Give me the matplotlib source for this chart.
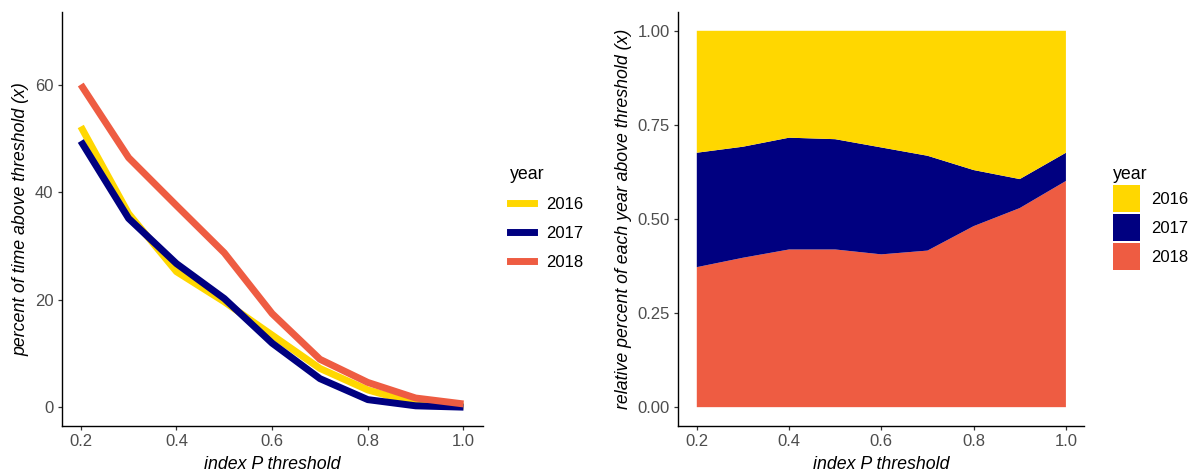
import numpy as np
import matplotlib
matplotlib.use("Agg")
import matplotlib.pyplot as plt
from matplotlib.patches import Patch
from matplotlib.lines import Line2D

plt.rcParams['font.family'] = ['Liberation Sans', 'DejaVu Sans']

# index P threshold
thresholds = [0.2, 0.3, 0.4, 0.5, 0.6, 0.7, 0.8, 0.9, 1.0]
years = ['2016', '2017', '2018']
colors = {'2016': '#FFD700', '2017': '#000080', '2018': '#EE5C42'}

# percent of time above threshold, per year
pct_2016 = [52.2, 36.0, 25.2, 19.6, 13.4, 7.2, 3.2, 0.7, 0.2]
pct_2017 = [49.5, 35.1, 26.7, 20.2, 11.9, 5.3, 1.4, 0.25, 0.0]
pct_2018 = [60.0, 46.4, 37.5, 28.7, 17.4, 8.9, 4.6, 1.7, 0.6]

# relative share of each year above threshold (right panel)
share_2018 = [0.372, 0.397, 0.419, 0.419, 0.406, 0.416, 0.481, 0.529, 0.601]
share_2017 = [0.304, 0.295, 0.297, 0.293, 0.284, 0.252, 0.149, 0.077, 0.075]
share_2016 = [0.324, 0.308, 0.284, 0.288, 0.310, 0.332, 0.370, 0.394, 0.324]

TICK_COLOR = '#4D4D4D'
TICK_SIZE = 12
TITLE_SIZE = 12.8

fig = plt.figure(figsize=(11.97, 4.75), dpi=100)


def style_axes(ax):
    for s in ['top', 'right']:
        ax.spines[s].set_visible(False)
    for s in ['left', 'bottom']:
        ax.spines[s].set_linewidth(1.0)
        ax.spines[s].set_color('black')
    ax.tick_params(direction='out', length=3, width=0.9, color='#333333',
                   labelsize=TICK_SIZE, labelcolor=TICK_COLOR, pad=3)
    ax.set_xlim(0.16, 1.04)
    ax.set_xticks([0.2, 0.4, 0.6, 0.8, 1.0])
    ax.set_xticklabels(['0.2', '0.4', '0.6', '0.8', '1.0'])
    ax.set_xlabel('index P threshold', fontsize=TITLE_SIZE, style='italic',
                  labelpad=4.5)


# left panel: lines
ax1 = fig.add_axes([0.0515, 0.1032, 0.3517, 0.8716])
for yr, vals in zip(years, [pct_2016, pct_2017, pct_2018]):
    ax1.plot(thresholds, vals, color=colors[yr], lw=5, solid_capstyle='butt',
             solid_joinstyle='round')
style_axes(ax1)
ax1.set_ylim(-3.5, 73.5)
ax1.set_yticks([0, 20, 40, 60])
ax1.set_ylabel('percent of time above threshold (x)', fontsize=TITLE_SIZE,
               style='italic', labelpad=4)

handles1 = [Line2D([0], [0], color=colors[yr], lw=5) for yr in years]
leg1 = fig.legend(handles1, years, title='year', loc='upper left',
                  bbox_to_anchor=(510 / 1197, 1 - 166 / 475), frameon=False,
                  fontsize=TICK_SIZE, title_fontsize=TITLE_SIZE,
                  handlelength=1.45, handletextpad=0.72, labelspacing=0.84,
                  borderpad=0, borderaxespad=0, alignment='left')

# right panel: filled proportions
ax2 = fig.add_axes([0.5667, 0.1032, 0.3392, 0.8716])
ax2.stackplot(thresholds, share_2018, share_2017, share_2016,
              colors=[colors['2018'], colors['2017'], colors['2016']],
              linewidth=0)
style_axes(ax2)
ax2.set_ylim(-0.05, 1.05)
ax2.set_yticks([0, 0.25, 0.5, 0.75, 1.0])
ax2.set_yticklabels(['0.00', '0.25', '0.50', '0.75', '1.00'])
ax2.set_ylabel('relative percent of each year above threshold (x)',
               fontsize=TITLE_SIZE, style='italic', labelpad=4)

handles2 = [Patch(facecolor=colors[yr], edgecolor='none') for yr in years]
leg2 = fig.legend(handles2, years, title='year', loc='upper left',
                  bbox_to_anchor=(1113 / 1197, 1 - 166 / 475), frameon=False,
                  fontsize=TICK_SIZE, title_fontsize=TITLE_SIZE,
                  handlelength=1.62, handleheight=2.12, handletextpad=0.65,
                  labelspacing=0.12, borderpad=0, borderaxespad=0,
                  alignment='left')

fig.savefig('out.png', dpi=100)
